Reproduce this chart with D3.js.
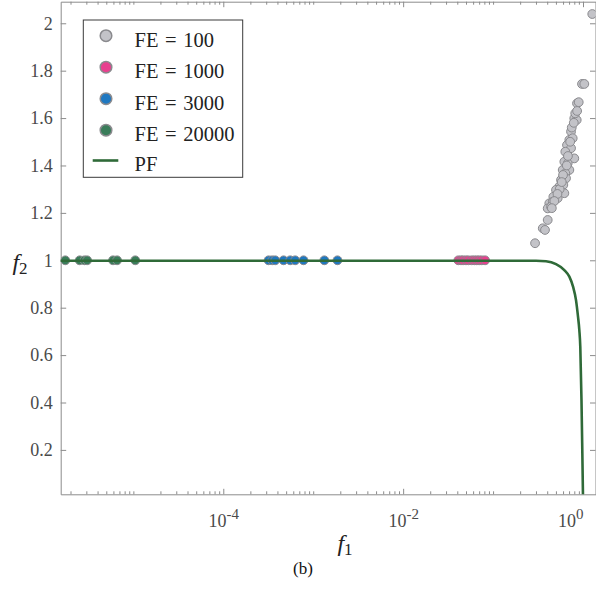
<!DOCTYPE html>
<html>
<head>
<meta charset="utf-8">
<script src="https://cdn.jsdelivr.net/npm/d3@7"></script>
<style>
  html, body { margin: 0; padding: 0; background: #fff; }
  svg { display: block; }
  svg text { font-family: "Liberation Serif", "Times New Roman", Times, "Noto Serif", "DejaVu Serif", serif; }
</style>
</head>
<body>
<svg id="chart" width="596" height="597"></svg>
<script>
// Objective values (f1, f2) of the populations at several evaluation budgets
const fe100 = [
  [1.268, 2.039], [0.975, 1.744], [1.034, 1.744], [0.858, 1.662], [0.896, 1.667],
  [0.800, 1.599], [0.851, 1.592], [0.736, 1.543], [0.705, 1.508], [0.768, 1.515],
  [0.664, 1.486], [0.736, 1.473], [0.636, 1.458], [0.800, 1.430], [0.620, 1.416],
  [0.676, 1.409], [0.595, 1.381], [0.705, 1.381], [0.636, 1.367], [0.570, 1.339],
  [0.647, 1.346], [0.545, 1.311], [0.604, 1.318], [0.501, 1.297], [0.620, 1.283],
  [0.468, 1.268], [0.523, 1.262], [0.422, 1.240], [0.461, 1.247], [0.405, 1.219],
  [0.441, 1.226], [0.405, 1.170], [0.357, 1.135], [0.378, 1.128], [0.293, 1.072],
  [0.550, 1.300], [0.680, 1.440], [0.720, 1.500], [0.600, 1.360], [0.660, 1.400],
  [0.750, 1.560], [0.820, 1.620], [0.790, 1.580], [0.520, 1.280], [0.480, 1.250],
  [0.580, 1.330], [0.860, 1.630], [0.450, 1.220]
];
const fe1000 = [
  [0.0411, 1.0], [0.0440, 1.0], [0.0464, 1.0], [0.0500, 1.0], [0.0532, 1.0],
  [0.0580, 1.0], [0.0620, 1.0], [0.0659, 1.0], [0.0700, 1.0], [0.0749, 1.0],
  [0.0815, 1.0]
];
const fe3000 = [
  [3.19e-4, 1.0], [3.50e-4, 1.0], [3.78e-4, 1.0], [4.68e-4, 1.0], [5.55e-4, 1.0],
  [6.30e-4, 1.0], [7.80e-4, 1.0], [1.33e-3, 1.0], [1.86e-3, 1.0]
];
const fe20000 = [
  [1.75e-6, 1.0], [2.53e-6, 1.0], [2.86e-6, 1.0], [3.06e-6, 1.0], [5.94e-6, 1.0],
  [6.59e-6, 1.0], [1.05e-5, 1.0]
];
// Pareto front
const paretoFront = [
  [1.5e-6, 0.998], [0.30, 0.998], [0.388, 0.996], [0.501, 0.984], [0.620, 0.959],
  [0.705, 0.931], [0.775, 0.889], [0.836, 0.832], [0.880, 0.762], [0.910, 0.706],
  [0.933, 0.635], [0.962, 0.410], [0.982, 0.200], [1.000, 0.000]
];

const seriesNames = ["FE = 100", "FE = 1000", "FE = 3000", "FE = 20000"];
const seriesData = [fe100, fe1000, fe3000, fe20000];
const seriesFill = ["#c3c3c8", "#e8408f", "#1f78c1", "#3a7d5a"];
const pfName = "PF";
const pfColor = "#2f6a38";

const yTickValues = [0.2, 0.4, 0.6, 0.8, 1, 1.2, 1.4, 1.6, 1.8, 2];
const xLabelDecades = [-4, -2, 0];

const serif = '"Liberation Serif", "Times New Roman", Times, "Noto Serif", "DejaVu Serif", serif';

const svg = d3.select("#chart");
const plotLeft = 60.7, plotRight = 595.5, plotTop = 1.7, plotBottom = 494.3;

const x = d3.scaleLog()
  .domain([Math.pow(10, -5.808), Math.pow(10, 0.139)])
  .range([plotLeft, plotRight]);
const y = d3.scaleLinear()
  .domain([0.0127, 2.091])
  .range([plotBottom, plotTop]);

// log ticks: every integer multiple in each decade
const xTicks = [];
for (let e = -6; e <= 0; e++) {
  for (let m = 1; m <= 9; m++) {
    const v = m * Math.pow(10, e);
    if (v >= x.domain()[0] && v <= x.domain()[1]) xTicks.push(v);
  }
}
const isMajor = v => xLabelDecades.some(e => Math.abs(Math.log10(v) - e) < 1e-9);

const axisColor = "#8c8c8c";
const labelColor = "#4a4a4a";

function styleAxis(g) {
  g.attr("font-family", serif);
  g.select(".domain").attr("stroke", axisColor).attr("stroke-width", 1);
  g.selectAll(".tick line").attr("stroke", axisColor).attr("stroke-width", 1);
}

// bottom axis
const gx = svg.append("g")
  .attr("transform", `translate(0,${plotBottom})`)
  .call(d3.axisBottom(x).tickValues(xTicks).tickSizeOuter(0).tickSizeInner(-3).tickPadding(14).tickFormat(() => ""));
styleAxis(gx);
gx.selectAll(".tick").filter(d => isMajor(d)).select("line").attr("y2", -5.5);
gx.selectAll(".tick").filter(d => isMajor(d)).select("text")
  .attr("fill", labelColor)
  .attr("font-size", 18)
  .attr("y", 33)
  .attr("dy", 0)
  .each(function (d) {
    const t = d3.select(this);
    const e = Math.round(Math.log10(d));
    t.text(null);
    t.append("tspan").text("10");
    t.append("tspan").attr("font-size", 15).attr("dy", -8).text(e === 0 ? "0" : "-" + Math.abs(e));
    if (e === 0) t.attr("text-anchor", "end");
  });

// top axis
const gxt = svg.append("g")
  .attr("transform", `translate(0,${plotTop})`)
  .call(d3.axisTop(x).tickValues(xTicks).tickSizeOuter(0).tickSizeInner(-3).tickFormat(() => ""));
styleAxis(gxt);
gxt.selectAll(".tick").filter(d => isMajor(d)).select("line").attr("y2", 5.5);

// left axis
const gy = svg.append("g")
  .attr("transform", `translate(${plotLeft},0)`)
  .call(d3.axisLeft(y).tickValues(yTickValues).tickSizeOuter(0).tickSizeInner(-5.5).tickPadding(8)
    .tickFormat(d => d === 1 || d === 2 ? d3.format("d")(d) : d3.format(".1f")(d)));
styleAxis(gy);
gy.selectAll(".tick text")
  .attr("fill", labelColor)
  .attr("font-size", 18);

// right axis
const gyr = svg.append("g")
  .attr("transform", `translate(${plotRight},0)`)
  .call(d3.axisRight(y).tickValues(yTickValues).tickSizeOuter(0).tickSizeInner(-5.5).tickFormat(() => ""));
styleAxis(gyr);

// clip region for the data
svg.append("clipPath").attr("id", "plotClip")
  .append("rect").attr("x", plotLeft).attr("y", plotTop)
  .attr("width", plotRight - plotLeft).attr("height", plotBottom - plotTop);

const plot = svg.append("g").attr("clip-path", "url(#plotClip)");

// scatter of each population
seriesData.forEach((data, i) => {
  plot.append("g").selectAll("circle")
    .data(data)
    .join("circle")
    .attr("cx", d => x(d[0]))
    .attr("cy", d => y(d[1]))
    .attr("r", 4.4)
    .attr("fill", seriesFill[i])
    .attr("stroke", "#8a8a8e")
    .attr("stroke-width", 1);
});

// Pareto front curve
plot.append("path")
  .datum(paretoFront)
  .attr("fill", "none")
  .attr("stroke", pfColor)
  .attr("stroke-width", 2.6)
  .attr("d", d3.line().x(d => x(d[0])).y(d => y(d[1])).curve(d3.curveMonotoneX));

// axis titles
const xt = svg.append("text")
  .attr("x", 345).attr("y", 551)
  .attr("text-anchor", "middle")
  .attr("font-family", serif)
  .attr("font-size", 24)
  .attr("fill", "#222");
xt.append("tspan").attr("font-style", "italic").text("f");
xt.append("tspan").attr("font-size", 17).attr("dy", 4).text("1");

const yt = svg.append("text")
  .attr("x", 20).attr("y", 270)
  .attr("text-anchor", "middle")
  .attr("font-family", serif)
  .attr("font-size", 24)
  .attr("fill", "#222");
yt.append("tspan").attr("font-style", "italic").text("f");
yt.append("tspan").attr("font-size", 17).attr("dy", 4).text("2");

// legend
const lg = svg.append("g").attr("font-family", serif);
lg.append("rect")
  .attr("x", 83.3).attr("y", 20)
  .attr("width", 159.4).attr("height", 157.3)
  .attr("fill", "#fff")
  .attr("stroke", "#3a3a3a")
  .attr("stroke-width", 1);
const rowY = [35.7, 67.2, 98.7, 130.2, 160.5];
seriesNames.forEach((name, i) => {
  lg.append("circle")
    .attr("cx", 106).attr("cy", rowY[i]).attr("r", 5.8)
    .attr("fill", seriesFill[i]).attr("stroke", "#8a8a8e").attr("stroke-width", 1.5);
  lg.append("text")
    .attr("x", 134.5).attr("y", rowY[i] + 11)
    .attr("font-size", 20.5).attr("fill", "#222")
    .attr("word-spacing", 1.5)
    .text(name);
});
lg.append("line")
  .attr("x1", 92.7).attr("x2", 118.3)
  .attr("y1", rowY[4]).attr("y2", rowY[4])
  .attr("stroke", pfColor).attr("stroke-width", 2.6);
lg.append("text")
  .attr("x", 134.5).attr("y", rowY[4] + 10)
  .attr("font-size", 20.5).attr("fill", "#222")
  .text(pfName);

// panel caption
svg.append("text")
  .attr("x", 303).attr("y", 574)
  .attr("text-anchor", "middle")
  .attr("font-family", serif)
  .attr("font-size", 17)
  .attr("fill", "#111")
  .text("(b)");
</script>
</body>
</html>
